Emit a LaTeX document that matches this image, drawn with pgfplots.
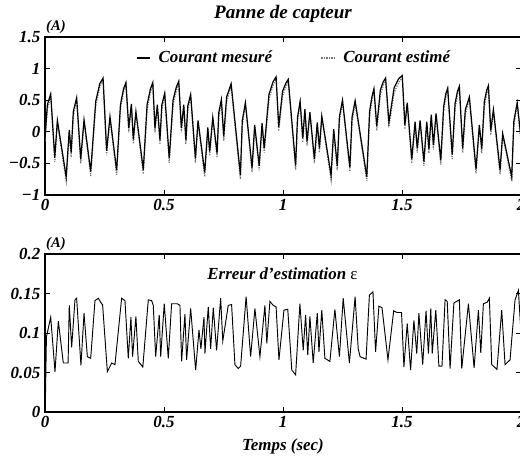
\documentclass[border=0pt]{standalone}
\usepackage{fontspec}
\setmainfont{Liberation Serif}
\usepackage{pgfplots}
\usepackage{pgfplotstable}
\pgfplotsset{compat=1.18}

\pgfplotstableread{
t meas est
0.000 -0.10 -0.14
0.010 0.43 0.35
0.024 0.60 0.57
0.041 -0.41 -0.48
0.052 0.18 0.15
0.089 -0.71 -0.78
0.102 0.03 0.00
0.110 -0.33 -0.40
0.119 0.32 0.24
0.133 0.54 0.51
0.150 -0.43 -0.50
0.164 0.19 0.16
0.192 -0.63 -0.70
0.213 0.48 0.40
0.230 0.76 0.70
0.244 0.85 0.82
0.259 -0.30 -0.37
0.273 0.24 0.21
0.301 -0.61 -0.68
0.317 0.43 0.35
0.330 0.68 0.62
0.340 0.78 0.75
0.352 0.06 -0.01
0.363 0.44 0.41
0.371 -0.12 -0.19
0.382 0.32 0.29
0.413 -0.60 -0.67
0.429 0.43 0.35
0.443 0.68 0.62
0.453 0.78 0.75
0.462 0.06 -0.01
0.472 0.43 0.40
0.483 -0.13 -0.20
0.491 0.43 0.35
0.503 0.61 0.58
0.522 -0.42 -0.49
0.538 0.50 0.42
0.552 0.71 0.65
0.562 0.80 0.77
0.573 0.06 -0.01
0.583 0.43 0.40
0.592 -0.13 -0.20
0.600 0.41 0.33
0.612 0.59 0.56
0.632 -0.42 -0.49
0.643 0.18 0.15
0.671 -0.64 -0.71
0.684 0.07 0.04
0.692 -0.31 -0.38
0.705 0.23 0.20
0.723 -0.34 -0.41
0.730 0.30 0.22
0.741 0.51 0.48
0.751 -0.07 -0.14
0.763 0.55 0.47
0.782 0.76 0.73
0.821 -0.68 -0.75
0.829 0.18 0.10
0.842 0.46 0.43
0.870 -0.57 -0.64
0.881 0.11 0.08
0.900 -0.54 -0.61
0.912 0.14 0.11
0.921 -0.26 -0.33
0.941 0.59 0.51
0.958 0.79 0.73
0.971 0.87 0.84
0.982 0.08 0.01
0.998 0.64 0.56
1.012 0.77 0.71
1.022 0.83 0.80
1.053 -0.53 -0.60
1.061 0.23 0.15
1.072 0.48 0.45
1.083 -0.10 -0.17
1.092 0.36 0.33
1.101 -0.15 -0.22
1.113 0.31 0.28
1.132 -0.43 -0.50
1.144 0.15 0.12
1.153 -0.26 -0.33
1.163 0.25 0.22
1.202 -0.69 -0.76
1.213 0.04 0.01
1.228 -0.54 -0.61
1.237 0.24 0.16
1.250 0.50 0.47
1.281 -0.56 -0.63
1.290 0.23 0.15
1.303 0.49 0.46
1.352 -0.71 -0.78
1.364 0.33 0.25
1.374 0.56 0.50
1.382 0.68 0.65
1.394 0.09 0.02
1.409 0.66 0.58
1.421 0.79 0.73
1.431 0.85 0.82
1.445 0.15 0.08
1.467 0.70 0.62
1.486 0.84 0.78
1.501 0.89 0.86
1.512 0.11 0.04
1.522 0.46 0.43
1.541 -0.43 -0.50
1.555 0.16 0.13
1.564 -0.26 -0.33
1.576 0.18 0.15
1.592 -0.47 -0.54
1.604 0.16 0.13
1.613 -0.27 -0.34
1.623 0.27 0.24
1.632 -0.21 -0.28
1.643 0.29 0.26
1.663 -0.45 -0.52
1.675 0.40 0.32
1.684 0.60 0.54
1.692 0.69 0.66
1.711 -0.36 -0.43
1.723 0.45 0.37
1.733 0.64 0.58
1.741 0.72 0.69
1.755 -0.26 -0.33
1.766 0.35 0.27
1.783 0.55 0.52
1.811 -0.59 -0.66
1.825 0.11 0.08
1.835 -0.27 -0.34
1.846 0.48 0.40
1.856 0.66 0.60
1.863 0.73 0.70
1.873 0.02 -0.05
1.884 0.35 0.32
1.912 -0.60 -0.67
1.923 -0.03 -0.06
1.961 -0.71 -0.78
1.970 0.17 0.09
1.984 0.46 0.43
2.000 -0.10 -0.17
}\courant

\pgfplotstableread{
t err
0.002 0.020
0.006 0.095
0.024 0.120
0.042 0.051
0.056 0.115
0.077 0.062
0.097 0.062
0.102 0.135
0.112 0.082
0.126 0.142
0.133 0.144
0.151 0.059
0.164 0.125
0.178 0.070
0.192 0.068
0.210 0.141
0.224 0.144
0.238 0.137
0.242 0.136
0.262 0.051
0.280 0.062
0.294 0.060
0.322 0.144
0.336 0.141
0.350 0.068
0.361 0.120
0.368 0.070
0.382 0.121
0.392 0.064
0.411 0.057
0.434 0.142
0.448 0.141
0.455 0.135
0.465 0.070
0.480 0.123
0.486 0.070
0.501 0.137
0.518 0.068
0.532 0.137
0.556 0.137
0.567 0.135
0.574 0.064
0.588 0.124
0.595 0.066
0.612 0.131
0.633 0.053
0.647 0.104
0.655 0.080
0.668 0.120
0.672 0.074
0.686 0.133
0.696 0.080
0.707 0.132
0.721 0.078
0.738 0.144
0.747 0.090
0.770 0.135
0.784 0.136
0.798 0.060
0.812 0.055
0.822 0.058
0.845 0.146
0.864 0.070
0.882 0.131
0.903 0.070
0.924 0.135
0.932 0.087
0.945 0.140
0.959 0.135
0.971 0.133
0.983 0.066
1.004 0.129
1.020 0.130
1.037 0.053
1.053 0.047
1.071 0.137
1.085 0.078
1.095 0.123
1.104 0.072
1.113 0.121
1.127 0.062
1.144 0.125
1.151 0.076
1.163 0.129
1.176 0.068
1.197 0.064
1.218 0.130
1.237 0.070
1.253 0.144
1.279 0.062
1.303 0.146
1.316 0.080
1.324 0.070
1.349 0.067
1.363 0.148
1.378 0.152
1.389 0.076
1.403 0.134
1.416 0.132
1.441 0.066
1.465 0.128
1.479 0.126
1.498 0.126
1.508 0.057
1.522 0.112
1.536 0.053
1.550 0.116
1.562 0.074
1.571 0.125
1.587 0.060
1.601 0.128
1.611 0.074
1.621 0.131
1.627 0.074
1.642 0.129
1.655 0.058
1.668 0.058
1.681 0.142
1.690 0.140
1.702 0.055
1.718 0.138
1.741 0.142
1.751 0.055
1.779 0.137
1.803 0.056
1.821 0.129
1.831 0.075
1.842 0.137
1.858 0.139
1.867 0.144
1.877 0.060
1.899 0.054
1.919 0.129
1.933 0.060
1.954 0.066
1.975 0.142
1.989 0.154
2.000 0.100
}\erreur

\newcommand{\bi}{\bfseries\itshape\fontsize{12.7}{14}\selectfont}

\begin{document}
\begin{tikzpicture}
\pgfplotsset{
  every axis/.append style={
    scale only axis, width=357pt, height=118.5pt,
    xmin=0, xmax=2,
    xtick={0,0.5,1,1.5,2},
    xticklabels={0,0.5,1,1.5,2},
    axis line style={line width=0.9pt},
    every tick/.style={black, line width=0.6pt},
    major tick length=4pt,
    tick label style={font=\bi},
    clip=true,
  }
}
\begin{axis}[name=top, at={(0pt,0pt)}, anchor=north west,
  ymin=-1, ymax=1.5,
  ytick={-1,-0.5,0,0.5,1,1.5},
  yticklabels={−1,−0.5,0,0.5,1,1.5},
  legend style={at={(0.524,0.867)}, anchor=center, draw=none, fill=none,
    font=\bi, legend columns=2,
    /tikz/every even column/.append style={column sep=34.5pt}},
  legend image code/.code={\draw[#1] (0pt,0pt) -- (10pt,0pt); \path[draw=none] (0pt,0pt) -- (14.5pt,0pt);},
]
\addlegendimage{black, line width=0.9pt}
\addlegendentry{Courant mesuré}
\addlegendimage{black!55, densely dotted, line width=0.9pt}
\addlegendentry{Courant estimé}
\addplot[black!55, densely dotted, line width=0.9pt, forget plot] table[x=t, y=est]{\courant};
\addplot[black, line width=0.9pt, forget plot] table[x=t, y=meas]{\courant};
\end{axis}

\begin{axis}[name=bottom, at={(0pt,-162.75pt)}, anchor=north west,
  ymin=0, ymax=0.2,
  ytick={0,0.05,0.1,0.15,0.2},
  yticklabels={0,0.05,0.1,0.15,0.2},
]
\addplot[black, line width=0.7pt] table[x=t, y=err]{\erreur};
\end{axis}

\node[font=\bfseries\itshape\fontsize{14.3}{16}\selectfont] at (178.5pt, 17.25pt) {Panne de capteur};
\node[font=\bfseries\itshape\fontsize{11}{12}\selectfont] at (8.25pt, 7.5pt) {(A)};
\node[font=\bfseries\itshape\fontsize{11}{12}\selectfont] at (8.25pt, -155.25pt) {(A)};
\node[font=\bi] at (178.1pt, -177.75pt) {Erreur d’estimation {\mdseries\upshape ε}};
\node[font=\bi] at (178.5pt, -306.75pt) {Temps (sec)};

\pgfresetboundingbox
\path[use as bounding box] (-33.75pt, 27.75pt) rectangle (356.25pt, -315pt);
\end{tikzpicture}
\end{document}
